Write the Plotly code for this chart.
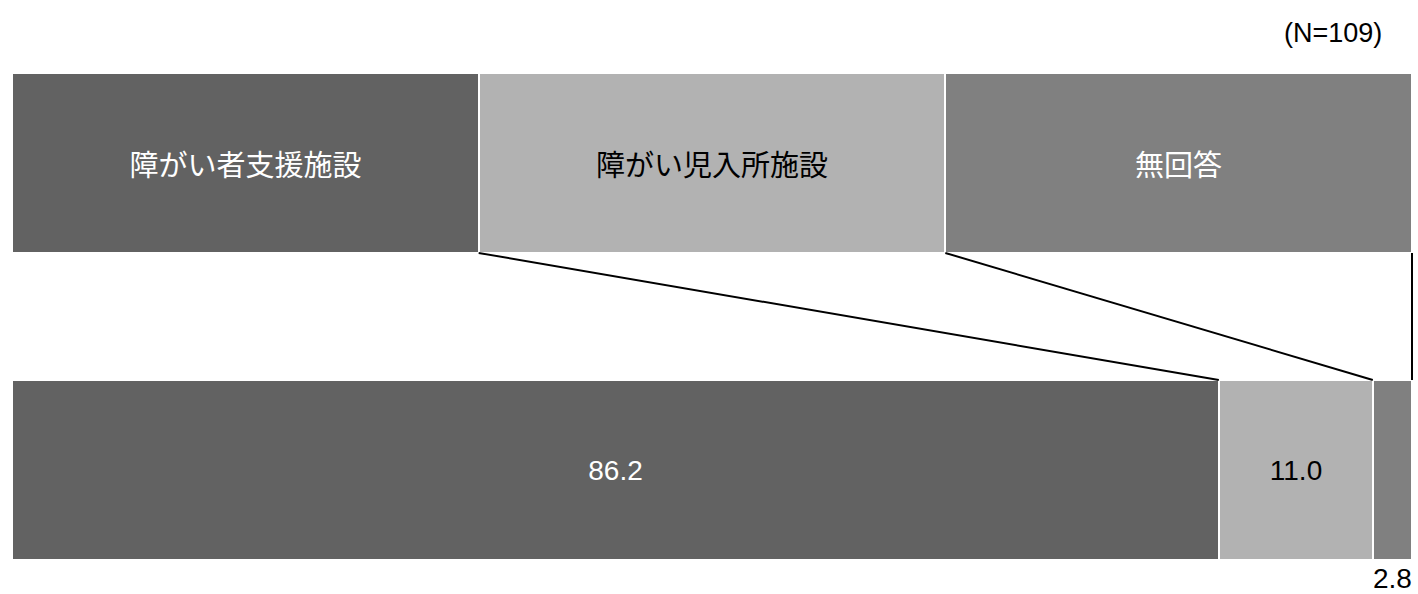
import plotly.graph_objects as go

categories = ["障がい者支援施設", "障がい児入所施設", "無回答"]
shares = [86.2, 11.0, 2.8]
colors = ["#626262", "#b2b2b2", "#808080"]
label_font_colors = ["white", "black", "white"]
n_label = "(N=109)"

BAR_W = 0.586
legend_share = 100 / len(categories)
NUM_FONT = "Liberation Sans, Arial"

fig = go.Figure()

# top row: equal-width key boxes
for cat, col, fc in zip(categories, colors, label_font_colors):
    fig.add_trace(go.Bar(
        x=[legend_share], y=[1], orientation="h", width=BAR_W,
        marker=dict(color=col, line=dict(color="white", width=2)),
        text=[cat], textposition="inside", insidetextanchor="middle",
        textfont=dict(color=fc, size=29, family="Noto Sans CJK JP"),
        hoverinfo="skip", showlegend=False,
    ))

# bottom row: actual shares
for v, col, fc in zip(shares, colors, label_font_colors):
    inside = v >= 5
    fig.add_trace(go.Bar(
        x=[v], y=[0], orientation="h", width=BAR_W,
        marker=dict(color=col, line=dict(color="white", width=2)),
        text=[f"{v:.1f}"] if inside else [""], textposition="inside",
        insidetextanchor="middle",
        textfont=dict(color=fc, size=28, family=NUM_FONT),
        hoverinfo="skip", showlegend=False,
    ))
    if not inside:
        fig.add_annotation(x=100, y=-BAR_W / 2, text=f"{v:.1f}", showarrow=False,
                           xanchor="right", yanchor="top", yshift=-1, xshift=2,
                           font=dict(size=28, color="black", family=NUM_FONT))

# connectors between key boundaries and share boundaries
cum_top = 0.0
cum_bot = 0.0
for v in shares:
    cum_top += legend_share
    cum_bot += v
    fig.add_shape(type="line", xref="x", yref="y", layer="above",
                  x0=cum_top, y0=1 - BAR_W / 2, x1=cum_bot, y1=BAR_W / 2,
                  line=dict(color="black", width=2))

fig.add_annotation(x=100, y=1.423, text=n_label, showarrow=False,
                   xanchor="right", yanchor="middle", xshift=-28,
                   font=dict(size=27, color="black", family=NUM_FONT))

fig.update_layout(
    barmode="stack", bargap=0,
    width=1418, height=594,
    margin=dict(l=12, r=4, t=0, b=0),
    plot_bgcolor="white", paper_bgcolor="white",
    xaxis=dict(range=[0, 100.143], visible=False, fixedrange=True),
    yaxis=dict(range=[-0.404, 1.531], visible=False, fixedrange=True),
)

# drop the browser's default body margin so the figure sits at the page origin
fig.write_html("out.html", config={"displayModeBar": False},
               post_script="document.body.style.margin='0';")
